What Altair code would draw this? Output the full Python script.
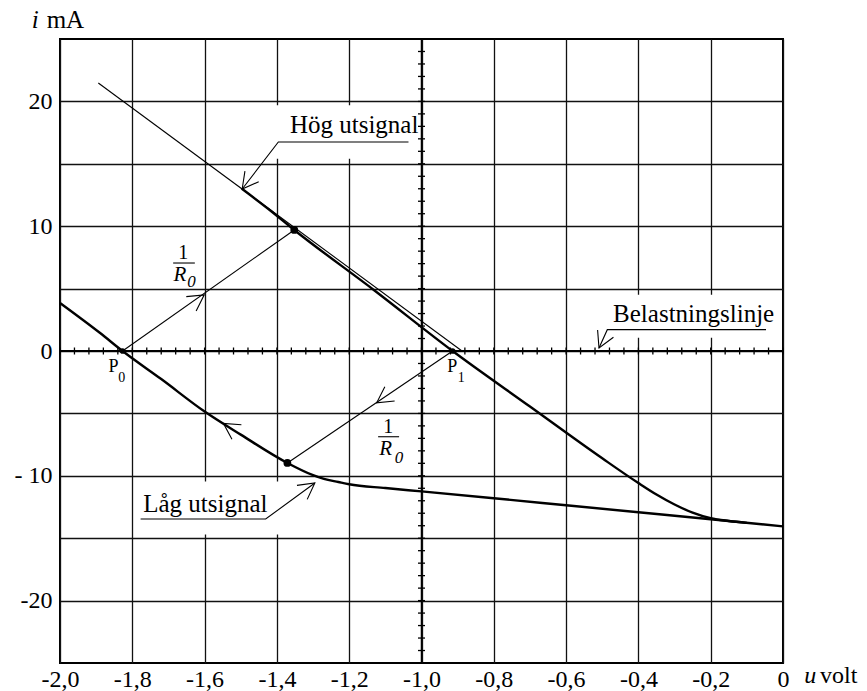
import math
import altair as alt
import pandas as pd

# Plot area size in pixels and the value ranges it spans
W, H = 723, 624
U_RANGE = [-2.0, 0.0]
I_RANGE = [-25.0, 25.0]
PX_PER_V = W / (U_RANGE[1] - U_RANGE[0])
PX_PER_MA = H / (I_RANGE[1] - I_RANGE[0])

SERIF = "Liberation Serif"

# Grid lines and small ticks on the centre axes
u_grid = [-2.0, -1.8, -1.6, -1.4, -1.2, -1.0, -0.8, -0.6, -0.4, -0.2, 0.0]
i_grid = [-20, -15, -10, -5, 0, 5, 10, 15, 20]
u_minor = [round(k * 0.04, 2) for k in range(-50, 1)]
i_minor = list(range(-25, 26))

# Thin straight line
load_u = [-1.894, -0.888]
load_i = [21.47, 0.0]

# Upper characteristic ("Hög utsignal")
high_u = [-1.497, -1.42, -1.352, -1.13, -0.914, -0.7, -0.5, -0.4,
          -0.35, -0.3, -0.25, -0.2, -0.15, -0.1]
high_i = [13.0, 11.3, 9.7, 4.85, 0.0, -4.45, -8.6, -10.58,
          -11.5, -12.3, -12.95, -13.4, -13.62, -13.77]

# Lower characteristic ("Låg utsignal")
low_u = [-2.0, -1.889, -1.827, -1.72, -1.6, -1.5, -1.371, -1.3, -1.27, -1.23,
         -1.2, -1.1, -1.0, -0.8, -0.6, -0.4, -0.2, 0.0]
low_i = [3.85, 1.44, 0.0, -2.25, -4.85, -6.7, -8.97, -9.95, -10.25, -10.5,
         -10.68, -10.98, -11.25, -11.8, -12.36, -12.92, -13.48, -14.05]

# 1/R0 transitions between the two branches
jump_u = [[-1.827, -1.352], [-0.914, -1.371]]
jump_i = [[0.0, 9.7], [0.0, -8.97]]

# Operating points
dot_u = [-1.352, -1.371]
dot_i = [9.7, -8.97]
p_u = [-1.827, -0.914]
p_i = [0.0, 0.0]

# Label leaders: underline then slanted line to the arrow tip
lead_u = [[-1.036, -1.396, -1.496], [-1.777, -1.431, -1.295], [-0.047, -0.486, -0.509]]
lead_i = [[16.75, 16.75, 12.98], [-13.46, -13.46, -10.58], [1.71, 1.71, 0.24]]

# Open arrowheads: tip and the point the arrow comes from
arrow_tip_u = [-1.601, -1.124, -1.548, -1.496, -1.295, -0.509]
arrow_tip_i = [4.5, -4.15, -5.8, 12.98, -10.58, 0.24]
arrow_from_u = [-1.827, -0.914, -1.5, -1.396, -1.431, -0.486]
arrow_from_i = [0.0, 0.0, -6.7, 16.75, -13.46, 1.71]

# White backing boxes behind the labels
box_u0 = [-1.42, -1.79, -0.49]
box_u1 = [-1.01, -1.375, -0.004]
box_i0 = [15.4, -14.7, 1.07]
box_i1 = [19.7, -10.45, 4.5]

# Labels
name_text = ["Hög utsignal", "Låg utsignal", "Belastningslinje"]
name_u = [-1.364, -1.770, -0.470]
name_i = [17.47, -12.93, 2.29]

p_text = ["P", "P"]
p_text_u = [-1.866, -0.929]
p_text_i = [-1.72, -1.72]
p_sub = ["0", "1"]
p_sub_u = [-1.839, -0.900]
p_sub_i = [-2.45, -2.45]

frac_num_u = [-1.659, -1.092]
frac_num_i = [7.4, -6.55]
frac_bar_u0 = [-1.687, -1.120]
frac_bar_u1 = [-1.627, -1.062]
frac_bar_i = [7.05, -6.87]
frac_r_u = [-1.668, -1.099]
frac_r_i = [5.58, -8.31]
frac_sub_u = [-1.636, -1.062]
frac_sub_i = [5.1, -8.97]

title_i_u, title_i_i = [-2.078], [25.9]
title_ma_u, title_ma_i = [-2.0369], [25.9]
title_u_u, title_u_i = [0.0590], [-26.6]
title_volt_u, title_volt_i = [0.1024], [-26.6]

xs = alt.Scale(domain=U_RANGE, nice=False, zero=False)
ys = alt.Scale(domain=I_RANGE, nice=False, zero=False)

x_axis = alt.Axis(
    values=u_grid, grid=True, gridColor="#111111", gridWidth=1.3,
    domain=False, ticks=False, tickSize=0, title=None,
    labelExpr="datum.value == 0 ? '0' : '-' + replace(format(abs(datum.value), '.1f'), '.', ',')",
    labelFont=SERIF, labelFontSize=24, labelColor="black", labelPadding=4,
    labelFlush=False, labelOverlap=False, labelBound=False,
)
y_axis = alt.Axis(
    values=i_grid, grid=True, gridColor="#111111", gridWidth=1.3,
    domain=False, ticks=False, tickSize=0, title=None,
    labelExpr="datum.value % 10 != 0 ? '' : (datum.value == -10 ? '- 10' : (datum.value < 0 ? '-' : '') + format(abs(datum.value), 'd'))",
    labelFont=SERIF, labelFontSize=24, labelColor="black", labelPadding=8,
    labelFlush=False, labelOverlap=False, labelBound=False,
)


def X(field):
    return alt.X(f"{field}:Q", scale=xs, axis=x_axis)


def Y(field):
    return alt.Y(f"{field}:Q", scale=ys, axis=y_axis)


def pos(u="u", i="i"):
    return dict(x=X(u), y=Y(i))


def screen_angle(u0, i0, u1, i1):
    dx = (u1 - u0) * PX_PER_V
    dy = -(i1 - i0) * PX_PER_MA
    return math.degrees(math.atan2(dy, dx)) % 360


def polylines(us, is_):
    rows = []
    for k, (uu, ii) in enumerate(zip(us, is_)):
        for n, (a, b) in enumerate(zip(uu, ii)):
            rows.append({"u": a, "i": b, "seg": k, "ord": n})
    return pd.DataFrame(rows)


label_font = dict(font=SERIF, color="black")

boxes = alt.Chart(pd.DataFrame({"u0": box_u0, "u1": box_u1, "i0": box_i0, "i1": box_i1})).mark_rect(
    color="white", opacity=1
).encode(x=X("u0"), x2="u1:Q", y=Y("i0"), y2="i1:Q")

h_axis = alt.Chart(pd.DataFrame({"i": [0.0]})).mark_rule(color="black", strokeWidth=1.8).encode(y=Y("i"))
v_axis = alt.Chart(pd.DataFrame({"u": [-1.0]})).mark_rule(color="black", strokeWidth=1.5).encode(x=X("u"))

h_ticks = alt.Chart(pd.DataFrame({"u": u_minor, "i": [0.0] * len(u_minor)})).mark_tick(
    orient="vertical", size=7, thickness=1.3, color="black", opacity=1
).encode(**pos())
v_ticks = alt.Chart(pd.DataFrame({"u": [-1.0] * len(i_minor), "i": i_minor})).mark_tick(
    orient="horizontal", size=7, thickness=1.3, color="black", opacity=1
).encode(**pos())

load_line = alt.Chart(pd.DataFrame({"u": load_u, "i": load_i})).mark_line(
    color="black", strokeWidth=1.1).encode(**pos())

high_line = alt.Chart(pd.DataFrame({"u": high_u, "i": high_i})).mark_line(
    color="black", strokeWidth=2.4, interpolate="monotone").encode(**pos())
low_line = alt.Chart(pd.DataFrame({"u": low_u, "i": low_i})).mark_line(
    color="black", strokeWidth=2.4, interpolate="monotone").encode(**pos())

jumps = alt.Chart(polylines(jump_u, jump_i)).mark_line(color="black", strokeWidth=1.1).encode(
    **pos(), detail="seg:N", order="ord:Q")
leaders = alt.Chart(polylines(lead_u, lead_i)).mark_line(color="black", strokeWidth=1.1).encode(
    **pos(), detail="seg:N", order="ord:Q")

dots = alt.Chart(pd.DataFrame({"u": dot_u, "i": dot_i})).mark_circle(
    size=60, color="black", opacity=1).encode(**pos())
p_dots = alt.Chart(pd.DataFrame({"u": p_u, "i": p_i})).mark_circle(
    size=32, color="black", opacity=1).encode(**pos())

arrow_df = pd.DataFrame({
    "u": arrow_tip_u, "i": arrow_tip_i,
    "ang": [screen_angle(a, b, c, d) for a, b, c, d in
            zip(arrow_from_u, arrow_from_i, arrow_tip_u, arrow_tip_i)],
})
arrows = alt.Chart(arrow_df).mark_point(
    shape="M-1,-0.55L0,0L-1,0.55", size=1000, filled=False,
    stroke="black", strokeWidth=1.1, opacity=1,
).encode(**pos(), angle=alt.Angle("ang:Q", scale=None))

frac_bars = alt.Chart(pd.DataFrame({"u0": frac_bar_u0, "u1": frac_bar_u1, "i": frac_bar_i})).mark_rule(
    color="black", strokeWidth=1.1
).encode(x=X("u0"), x2="u1:Q", y=Y("i"))


def text_layer(us, is_, texts, **props):
    df = pd.DataFrame({"u": us, "i": is_, "t": texts})
    return alt.Chart(df).mark_text(baseline="alphabetic", **label_font, **props).encode(
        **pos(), text="t:N")


names = text_layer(name_u, name_i, name_text, align="left", fontSize=25)
p_main = text_layer(p_text_u, p_text_i, p_text, align="left", fontSize=18)
p_subs = text_layer(p_sub_u, p_sub_i, p_sub, align="left", fontSize=14)
frac_num = text_layer(frac_num_u, frac_num_i, ["1", "1"], align="center", fontSize=20)
frac_r = text_layer(frac_r_u, frac_r_i, ["R", "R"], align="center", fontSize=21, fontStyle="italic")
frac_sub = text_layer(frac_sub_u, frac_sub_i, ["0", "0"], align="center", fontSize=17, fontStyle="italic")
t_i = text_layer(title_i_u, title_i_i, ["i"], align="left", fontSize=25, fontStyle="italic")
t_ma = text_layer(title_ma_u, title_ma_i, ["mA"], align="left", fontSize=25)
t_u = text_layer(title_u_u, title_u_i, ["u"], align="left", fontSize=24, fontStyle="italic")
t_volt = text_layer(title_volt_u, title_volt_i, ["volt"], align="left", fontSize=24)

chart = alt.layer(
    boxes, h_axis, v_axis, h_ticks, v_ticks,
    load_line, jumps, leaders, high_line, low_line,
    dots, p_dots, arrows, frac_bars,
    names, p_main, p_subs, frac_num, frac_r, frac_sub,
    t_i, t_ma, t_u, t_volt,
).properties(
    width=W, height=H,
    padding={"left": 60, "top": 39, "right": 84, "bottom": 28},
    autosize=alt.AutoSizeParams(type="none"),
    background="white",
).configure_view(stroke="black", strokeWidth=2)

chart.save("out.html", embed_options={"renderer": "svg", "actions": False})
